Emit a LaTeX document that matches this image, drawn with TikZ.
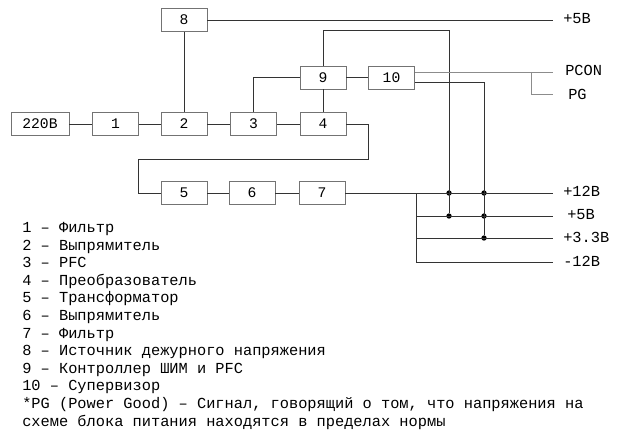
\documentclass[tikz,border=0pt]{standalone}
\usepackage{fontspec}
\setmainfont{Liberation Mono}
\usetikzlibrary{calc}
\begin{document}
\begin{tikzpicture}[x=0.75pt, y=-0.75pt,
	blk/.style={draw=black!55, line width=0.7pt, minimum width=34.5pt, minimum height=17.25pt, inner sep=0pt, font=\fontsize{11}{13}\selectfont},
	wire/.style={black!80, line width=0.7pt},
	gwire/.style={black!45, line width=0.7pt},
	dot/.style={circle, fill=black, inner sep=0pt, minimum size=4pt},
	lbl/.style={anchor=mid west, inner sep=0pt, font=\fontsize{11.5}{13}\selectfont},
	leg/.style={anchor=mid west, inner sep=0pt, font=\fontsize{11.5}{13}\selectfont}]
	\useasboundingbox (0,0) rectangle (624,440);

	% blocks
	\node[blk, minimum width=43.5pt] (in) at (40,124) {220В};
	\node[blk] (b1) at (115.5,124) {1};
	\node[blk] (b2) at (184,124) {2};
	\node[blk] (b3) at (253.5,124) {3};
	\node[blk] (b4) at (323,124) {4};
	\node[blk] (b8) at (184,20) {8};
	\node[blk] (b9) at (323,77.5) {9};
	\node[blk] (b10) at (391.5,77.5) {10};
	\node[blk] (b5) at (184,193) {5};
	\node[blk] (b6) at (252,193) {6};
	\node[blk] (b7) at (322,193) {7};

	% outputs
	\coordinate (e5t) at (553,20);
	\coordinate (epc) at (553,72);
	\coordinate (epg) at (553,94);
	\coordinate (e12) at (553,193);
	\coordinate (e5) at (553,216);
	\coordinate (e33) at (553,238);
	\coordinate (em12) at (553,262);
	\node[lbl] (t5t) at (563,20) {+5В};
	\node[lbl] (tpc) at (565,72) {PCON};
	\node[lbl] (tpg) at (568,96) {PG};
	\node[lbl] (t12) at (563,193) {+12В};
	\node[lbl] (t5) at (567,216) {+5В};
	\node[lbl] (t33) at (563,239) {+3.3В};
	\node[lbl] (tm12) at (563,263) {-12В};

	% junctions
	\node[dot] (d1) at (449,193) {};
	\node[dot] (d2) at (484,193) {};
	\node[dot] (d3) at (449,216) {};
	\node[dot] (d4) at (484,216) {};
	\node[dot] (d5) at (484,238) {};

	% wiring
	\draw[wire] (in) -- (b1) -- (b2) -- (b3) -- (b4);
	\draw[wire] (b8) -- (b2);
	\draw[wire] (b8) -- (e5t);
	\draw[wire] (b3.north) |- (b9);
	\draw[wire] (b9) -- (b4);
	\draw[wire] (b9) -- (b10);
	\draw[wire] (b4.east) -- ++(22,0) |- ++(-230,35) |- (b5.west);
	\draw[wire] (b5) -- (b6) -- (b7);
	\draw[wire] (b7) -- (e12);
	\coordinate (bl) at (416,193);
	\draw[wire] (bl) |- (em12);
	\draw[wire] (e5 -| bl) -- (e5);
	\draw[wire] (e33 -| bl) -- (e33);
	\draw[wire] (b9.north) -- ++(0,-35) -| (d3);
	\draw[wire] ($(b10.east)+(0,4.5)$) -| (d5);

	% PCON / PG
	\coordinate (br) at (531,72);
	\draw[gwire] ($(b10.east)+(0,-5.5)$) -- (epc);
	\draw[gwire] (br) |- (epg);

	% legend
	\foreach \t [count=\i] in {{1 – Фильтр}, {2 – Выпрямитель}, {3 – PFC}, {4 – Преобразователь}, {5 – Трансформатор}, {6 – Выпрямитель}, {7 – Фильтр}, {8 – Источник дежурного напряжения}, {9 – Контроллер ШИМ и PFC}, {10 – Супервизор}, {*PG (Power Good) – Сигнал, говорящий о том, что напряжения на}, {схеме блока питания находятся в пределах нормы}}
		\node[leg] (leg\i) at (22, 229+17.6*\i-17.6) {\t};
\end{tikzpicture}
\end{document}
